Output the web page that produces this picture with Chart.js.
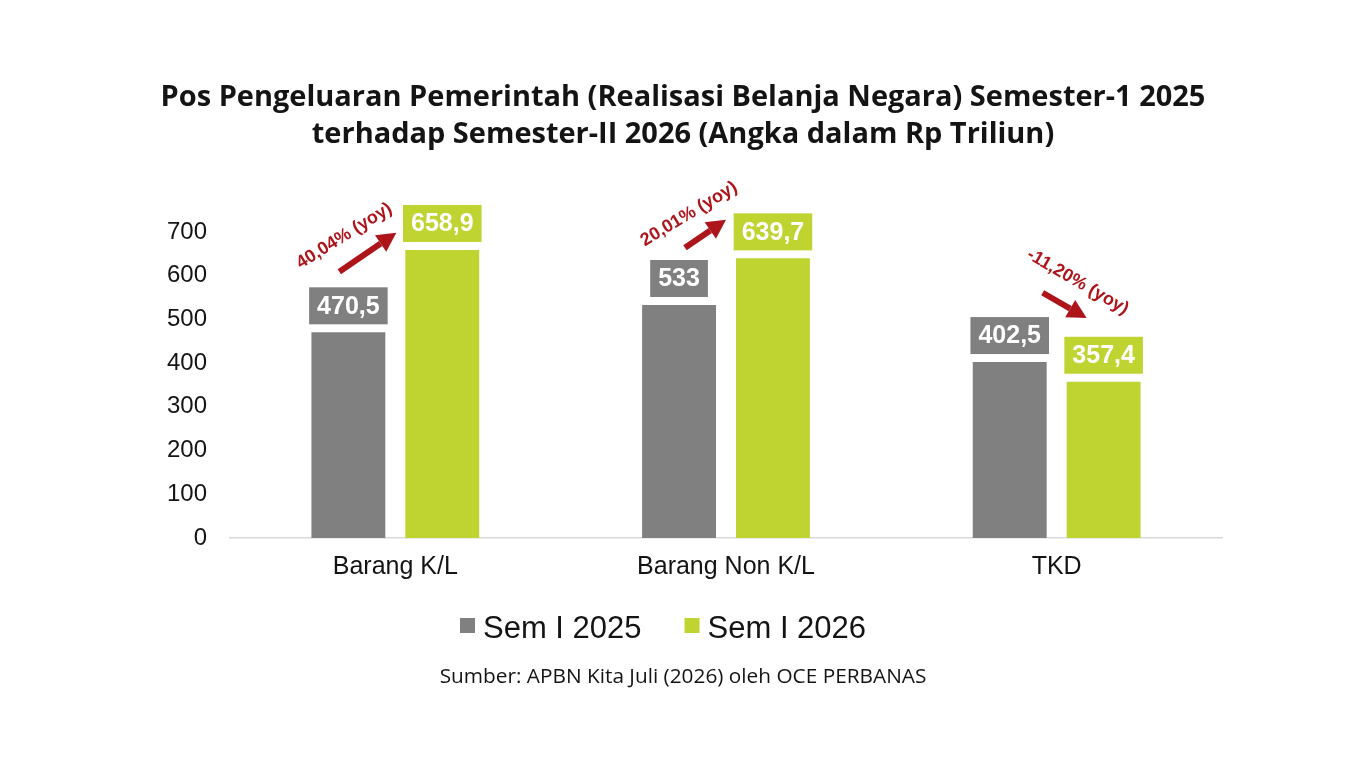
<!DOCTYPE html>
<html>
<head>
<meta charset="utf-8">
<script src="https://cdn.jsdelivr.net/npm/chart.js@4.4.1/dist/chart.umd.min.js"></script>
<style>
  html, body { margin: 0; padding: 0; background: #fff; }
  canvas { display: block; }
</style>
</head>
<body>
<canvas id="chart" width="1366" height="768"></canvas>
<script>
// data
const categories = ['Barang K/L', 'Barang Non K/L', 'TKD'];
const seriesNames = ['Sem I 2025', 'Sem I 2026'];
const sem2025 = [470.5, 533, 402.5];
const sem2026 = [658.9, 639.7, 357.4];
const labels2025 = ['470,5', '533', '402,5'];
const labels2026 = ['658,9', '639,7', '357,4'];
const yoyLabels = ['40,04% (yoy)', '20,01% (yoy)', '-11,20% (yoy)'];
const yTicks = [0, 100, 200, 300, 400, 500, 600, 700];

const titleLines = [
  'Pos Pengeluaran Pemerintah (Realisasi Belanja Negara) Semester-1 2025',
  'terhadap Semester-II 2026 (Angka dalam Rp Triliun)'
];
const sourceText = 'Sumber: APBN Kita Juli (2026) oleh OCE PERBANAS';

const GREY = '#808080';
const GREEN = '#bfd431';
const RED = '#ad151b';
const TEXT = '#141414';

// where each yoy note sits: dx in px from the category centre, y in axis units
const yoyMarks = [
  { textDx: -51, textY: 691, angle: -32, tail: [-56, 609], head: [1, 698] },
  { textDx: -37, textY: 741, angle: -31, tail: [-41, 664], head: [0, 728] },
  { textDx: 21, textY: 586, angle: 30, tail: [-14, 561], head: [30, 503] }
];

function drawArrow(ctx, x1, y1, x2, y2) {
  const a = Math.atan2(y2 - y1, x2 - x1);
  const hl = 19, hw = 10;
  const bx = x2 - hl * Math.cos(a), by = y2 - hl * Math.sin(a);
  ctx.beginPath();
  ctx.moveTo(x1, y1);
  ctx.lineTo(bx, by);
  ctx.lineWidth = 6;
  ctx.strokeStyle = RED;
  ctx.stroke();
  ctx.beginPath();
  ctx.moveTo(x2, y2);
  ctx.lineTo(bx + hw * Math.sin(a), by - hw * Math.cos(a));
  ctx.lineTo(bx - hw * Math.sin(a), by + hw * Math.cos(a));
  ctx.closePath();
  ctx.fillStyle = RED;
  ctx.fill();
}

const extras = {
  id: 'extras',
  afterDraw(chart) {
    const ctx = chart.ctx;
    const xs = chart.scales.x, ys = chart.scales.y;
    ctx.save();

    // title
    ctx.fillStyle = TEXT;
    ctx.textAlign = 'center';
    ctx.textBaseline = 'alphabetic';
    ctx.font = 'bold 100px "Open Sans"';
    const size = 100 * 1045 / ctx.measureText(titleLines[0]).width;
    ctx.font = 'bold ' + size.toFixed(2) + 'px "Open Sans"';
    ctx.fillText(titleLines[0], 683, 106);
    ctx.fillText(titleLines[1], 683, 143);

    // value boxes above bars
    const boxLabels = [labels2025, labels2026];
    ctx.font = 'bold 25px "Liberation Sans", Arial';
    ctx.textBaseline = 'middle';
    chart.data.datasets.forEach((ds, i) => {
      chart.getDatasetMeta(i).data.forEach((bar, j) => {
        const t = boxLabels[i][j];
        const w = ctx.measureText(t).width + 16;
        const h = 37;
        const bottom = bar.y - 8;
        ctx.fillStyle = ds.backgroundColor;
        ctx.fillRect(bar.x - w / 2, bottom - h, w, h);
        ctx.fillStyle = '#ffffff';
        ctx.fillText(t, bar.x, bottom - h / 2 + 1);
      });
    });

    // yoy arrows and notes
    yoyMarks.forEach((m, j) => {
      const cx = xs.getPixelForValue(j);
      drawArrow(ctx, cx + m.tail[0], ys.getPixelForValue(m.tail[1]),
                cx + m.head[0], ys.getPixelForValue(m.head[1]));
      ctx.save();
      ctx.translate(cx + m.textDx, ys.getPixelForValue(m.textY));
      ctx.rotate(m.angle * Math.PI / 180);
      ctx.font = 'bold 18px "Liberation Sans", Arial';
      ctx.fillStyle = RED;
      ctx.textAlign = 'center';
      ctx.textBaseline = 'middle';
      ctx.fillText(yoyLabels[j], 0, 0);
      ctx.restore();
    });

    // legend
    ctx.font = '31px "Liberation Sans", Arial';
    ctx.textAlign = 'left';
    ctx.textBaseline = 'alphabetic';
    let lx = 460;
    chart.data.datasets.forEach((ds) => {
      ctx.fillStyle = ds.backgroundColor;
      ctx.fillRect(lx, 618, 15, 15);
      ctx.fillStyle = TEXT;
      ctx.fillText(ds.label, lx + 23, 638);
      lx += 23 + ctx.measureText(ds.label).width + 43;
    });

    // source
    ctx.textAlign = 'center';
    ctx.font = '100px "Open Sans"';
    const s2 = 100 * 487 / ctx.measureText(sourceText).width;
    ctx.font = s2.toFixed(2) + 'px "Open Sans"';
    ctx.fillText(sourceText, 683, 683);

    ctx.restore();
  }
};

new Chart(document.getElementById('chart'), {
  type: 'bar',
  data: {
    labels: categories,
    datasets: [
      { label: seriesNames[0], data: sem2025, backgroundColor: GREY },
      { label: seriesNames[1], data: sem2026, backgroundColor: GREEN }
    ]
  },
  options: {
    responsive: false,
    devicePixelRatio: 1,
    animation: false,
    layout: { padding: { top: 232, right: 144, left: 0, bottom: 0 } },
    datasets: { bar: { categoryPercentage: 0.568, barPercentage: 0.787 } },
    plugins: {
      legend: { display: false },
      title: { display: false },
      tooltip: { enabled: false }
    },
    scales: {
      x: {
        grid: { display: false, drawTicks: false },
        border: { color: '#d9d9d9', width: 1.5 },
        ticks: { font: { family: '"Liberation Sans", Arial', size: 25 }, color: TEXT, padding: 14 },
        afterFit: (s) => { s.height = 230; }
      },
      y: {
        min: 0,
        max: 700,
        afterBuildTicks: (s) => { s.ticks = yTicks.map(v => ({ value: v })); },
        grid: { display: false, drawTicks: false },
        border: { display: false },
        ticks: { font: { family: '"Liberation Sans", Arial', size: 24 }, color: TEXT, padding: 23 },
        afterFit: (s) => { s.width = 230; }
      }
    }
  },
  plugins: [extras]
});
</script>
</body>
</html>
